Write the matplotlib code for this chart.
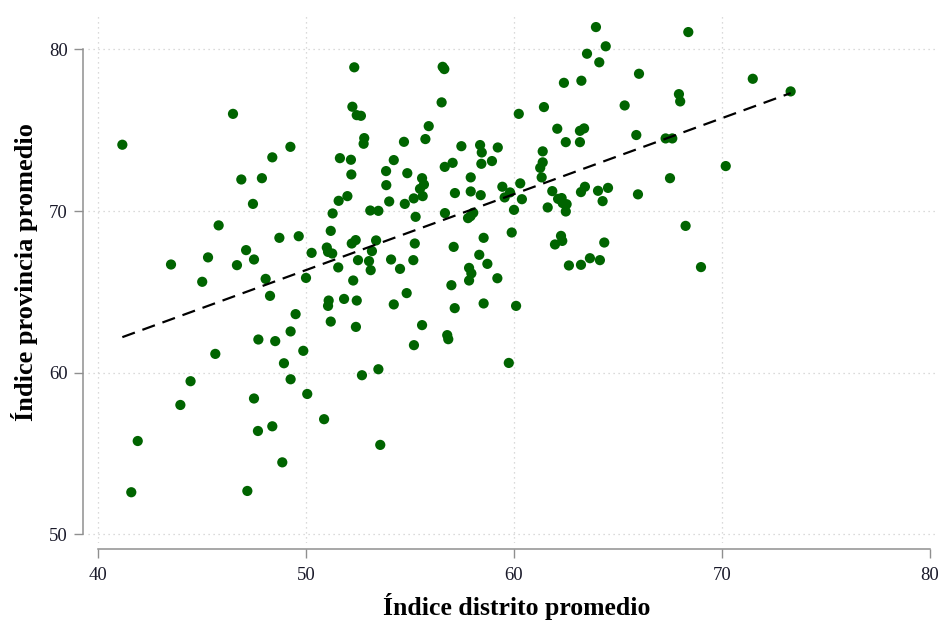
import numpy as np
import matplotlib
matplotlib.use("Agg")
import matplotlib.pyplot as plt

# Average index per district (x) and per province (y)
indice_distrito = [
    41.17, 46.49, 49.25, 48.38, 46.89, 47.88, 47.45,
    45.80, 43.51, 45.29, 45.01, 46.68, 47.12, 47.50, 48.72, 49.65, 48.06,
    48.27, 49.50, 49.26, 47.71, 48.52, 45.64, 48.94, 44.45, 49.26,
    43.96, 47.50, 41.91, 48.38, 47.69, 48.86, 41.60, 47.18, 50.06,
    52.32, 52.23, 52.44, 52.64, 52.80, 52.77, 51.63, 52.16, 52.18, 51.57,
    51.99, 51.28, 53.09, 53.48, 53.85, 53.86, 54.00, 54.22, 54.71, 54.87,
    54.75, 55.18, 55.27, 55.58, 55.67, 55.48, 55.61, 55.74, 55.90, 56.57,
    56.65, 56.52, 56.67, 57.05, 56.68, 57.47, 57.16, 57.92, 57.92, 58.40,
    58.37, 58.45, 58.43, 58.94, 59.22, 59.44, 59.81, 59.55, 60.30, 60.38,
    60.23, 60.00, 58.04, 57.91, 57.79,
    63.94, 68.38, 64.41, 63.51, 64.10, 66.01, 62.40, 63.24, 71.48, 73.30,
    61.44, 65.32, 67.93, 67.99, 62.08, 63.17, 63.37, 62.49, 63.17, 65.88,
    67.29, 67.61, 61.38, 61.38, 61.26, 61.33, 70.18, 67.50, 61.84, 61.62,
    62.12, 62.29, 62.34, 62.53, 62.49, 63.22, 63.41, 64.04, 64.52, 64.26,
    65.96,
    68.25, 62.26, 62.32, 61.97, 64.34, 62.64, 63.22, 63.65, 64.13, 68.99,
    51.19, 50.27, 51.00, 51.06, 51.26, 51.55, 50.00, 52.20, 52.39, 53.37,
    53.17, 52.50, 53.03, 53.11, 52.27, 54.09, 54.52, 55.16, 55.23, 57.10,
    58.54, 58.33, 58.72, 57.84, 57.95, 57.84, 59.20, 56.99, 59.89, 54.84,
    54.22, 51.09, 51.06, 51.83, 52.44, 51.19, 52.40, 57.15, 58.54, 60.10,
    55.58, 56.79, 56.84, 55.19, 49.87, 52.69, 53.48, 59.75,
    50.87, 53.57,
]

indice_provincia = [
    74.10, 76.01, 73.97, 73.32, 71.95, 72.03, 70.44,
    69.11, 66.69, 67.13, 65.62, 66.65, 67.58, 67.00, 68.34, 68.44, 65.80,
    64.75, 63.62, 62.55, 62.05, 61.95, 61.16, 60.58, 59.47, 59.59,
    58.00, 58.40, 55.77, 56.68, 56.39, 54.45, 52.60, 52.68, 58.68,
    78.89, 76.45, 75.93, 75.89, 74.51, 74.16, 73.27, 73.17, 72.26, 70.63,
    70.92, 69.85, 70.03, 70.01, 72.47, 71.60, 70.59, 73.15, 74.28, 72.34,
    70.44, 70.78, 69.64, 72.03, 71.64, 71.37, 70.92, 74.45, 75.25, 78.92,
    78.78, 76.72, 72.73, 72.98, 69.87, 74.01, 71.11, 72.08, 71.21, 70.98,
    74.08, 73.62, 72.92, 73.09, 73.93, 71.50, 71.15, 70.84, 71.71, 70.73,
    76.01, 70.07, 69.89, 69.68, 69.56,
    81.38, 81.07, 80.19, 79.73, 79.20, 78.49, 77.93, 78.06, 78.18, 77.40,
    76.43, 76.53, 77.23, 76.78, 75.09, 74.96, 75.11, 74.26, 74.26, 74.70,
    74.49, 74.49, 73.69, 73.01, 72.67, 72.08, 72.78, 72.03, 71.23, 70.22,
    70.75, 70.80, 70.49, 70.42, 69.97, 71.17, 71.50, 71.25, 71.43, 70.61,
    71.03,
    69.08, 68.46, 68.15, 67.93, 68.05, 66.63, 66.67, 67.08, 66.96, 66.53,
    68.77, 67.41, 67.74, 67.47, 67.37, 66.51, 65.86, 67.99, 68.20, 68.18,
    67.52, 66.96, 66.90, 66.34, 65.70, 67.00, 66.42, 66.96, 67.99, 67.78,
    68.34, 67.29, 66.73, 66.48, 66.14, 65.70, 65.84, 65.41, 68.67, 64.92,
    64.22, 64.46, 64.13, 64.56, 64.46, 63.16, 62.83, 63.99, 64.28, 64.13,
    62.94, 62.32, 62.07, 61.70, 61.35, 59.84, 60.21, 60.60,
    57.12, 55.53,
]

x_ticks = [40, 50, 60, 70, 80]
y_ticks = [50, 60, 70, 80]
x_grid = [40, 50, 60, 70]
y_grid = [50, 60, 70, 80]

x = np.array(indice_distrito)
y = np.array(indice_provincia)

# Linear fit over the observed range of the district index
slope, intercept = np.polyfit(x, y, 1)
x_fit = np.array([x.min(), x.max()])
y_fit = intercept + slope * x_fit

plt.rcParams["font.family"] = ["Liberation Serif", "DejaVu Serif"]

fig = plt.figure(figsize=(9.38, 6.2), dpi=100)
ax = fig.add_axes([88 / 938, 1 - 543 / 620, 850 / 938, 530 / 620])
ax.set_xlim(39.519, 80.385)
ax.set_ylim(49.46, 82.25)

grid_kw = dict(color="#cfcfcf", linewidth=0.9, linestyle=(0, (1, 3)), zorder=0)
for gx in x_grid:
    ax.axvline(gx, **grid_kw)
for gy in y_grid:
    ax.axhline(gy, **grid_kw)

ax.scatter(x, y, s=54, color="#006400", edgecolors="none", zorder=3,
           clip_on=False)
ax.plot(x_fit, y_fit, color="black", linewidth=1.6, linestyle=(0, (6, 3.6)),
        zorder=4)

for side in ("top", "right"):
    ax.spines[side].set_visible(False)
ax.spines["left"].set_position(("outward", 3.4))
ax.spines["bottom"].set_position(("outward", 4.5))
ax.spines["left"].set_bounds(50, 80)
ax.spines["bottom"].set_bounds(40, 80)
for side in ("left", "bottom"):
    ax.spines[side].set_color("#8f8f8f")
    ax.spines[side].set_linewidth(1.1)

ax.set_xticks(x_ticks)
ax.set_yticks(y_ticks)
ax.tick_params(axis="both", length=6.5, width=1.0, color="#8f8f8f",
               labelsize=13.5, labelcolor="#1a1a2a")
ax.tick_params(axis="y", pad=4.5)
ax.tick_params(axis="x", pad=6)

ax.set_xlabel("Índice distrito promedio", fontsize=18.5, fontweight="bold",
              va="center")
ax.set_ylabel("Índice provincia promedio", fontsize=19, fontweight="bold",
              va="center")
ax.xaxis.set_label_coords((517 - 88) / 850, (543 - 606) / 530)
ax.yaxis.set_label_coords((25 - 88) / 850, (543 - 272) / 530)

fig.savefig("out.png", dpi=100)
